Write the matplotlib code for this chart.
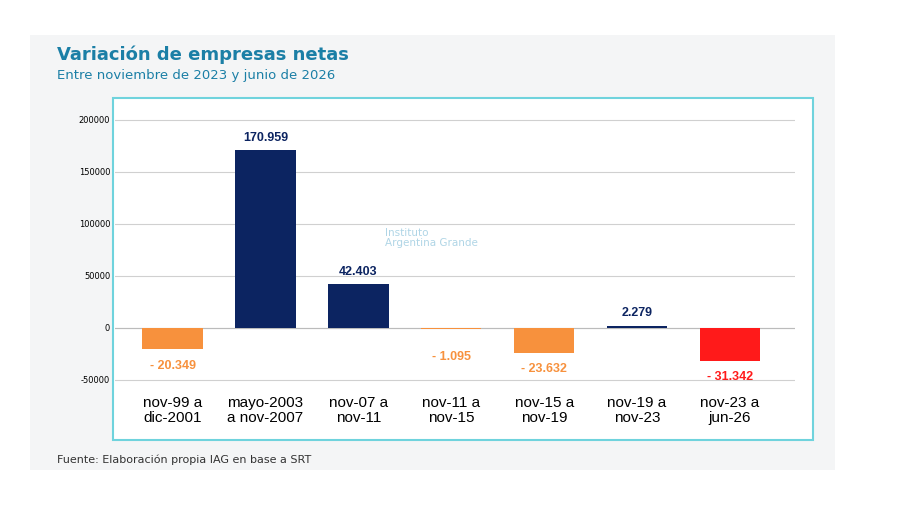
import matplotlib.pyplot as plt
from matplotlib.patches import Rectangle

periodos = ["nov-99 a\ndic-2001", "mayo-2003\na nov-2007", "nov-07 a\nnov-11", "nov-11 a\nnov-15",
            "nov-15 a\nnov-19", "nov-19 a\nnov-23", "nov-23 a\njun-26"]
valores = [-20349, 170959, 42403, -1095, -23632, 2279, -31342]
etiquetas = ["- 20.349", "170.959", "42.403", "- 1.095", "- 23.632", "2.279", "- 31.342"]
colores = ["#f7913d", "#0c2461", "#0c2461", "#f7913d", "#f7913d", "#0c2461", "#ff1a1a"]

fig = plt.figure(figsize=(9, 5.05), dpi=100)
fig.patch.set_facecolor("white")
# tarjeta gris y recuadro celeste
fig.patches.append(Rectangle((30/900, 1-470/505), 805/900, 435/505, transform=fig.transFigure,
                             facecolor="#f4f5f6", edgecolor="none", zorder=-3))
fig.patches.append(Rectangle((113/900, 1-440/505), 700/900, 342/505, transform=fig.transFigure,
                             facecolor="white", edgecolor="#6fd3dd", lw=1.5, zorder=-2))

fig.text(57/900, 1-55/505, "Variación de empresas netas", fontsize=13, fontweight="bold",
         color="#1b7fa6", va="center")
fig.text(57/900, 1-76/505, "Entre noviembre de 2023 y junio de 2026", fontsize=9.5,
         color="#1b7fa6", va="center")
fig.text(57/900, 1-460/505, "Fuente: Elaboración propia IAG en base a SRT", fontsize=8,
         color="#333333", va="center")

ax = fig.add_axes([115/900, 1-390.4/505, 680/900, 280.8/505])
ax.set_facecolor("none")
x = range(len(valores))
ax.bar(x, valores, width=0.65, color=colores, zorder=3)
ax.set_ylim(-60000, 210000)
ax.set_xlim(-0.62, 6.7)
ax.set_yticks([-50000, 0, 50000, 100000, 150000, 200000])
ax.set_yticklabels(["-50000", "0", "50000", "100000", "150000", "200000"], fontsize=6)
ax.grid(axis="y", color="#d0d0d0", lw=0.8, zorder=0)
ax.axhline(0, color="#bbbbbb", lw=0.8, zorder=2)
ax.tick_params(length=0)
ax.set_xticks(list(x))
ax.set_xticklabels(periodos, fontsize=11, linespacing=1.05, family="Liberation Sans")
ax.tick_params(axis="x", pad=4)
for s in ax.spines.values():
    s.set_visible(False)

for i, (v, t, c) in enumerate(zip(valores, etiquetas, colores)):
    if v > 0:
        ax.text(i, v + 6000, t, ha="center", va="bottom", fontsize=9, fontweight="bold",
                color="#0c2461", family="Liberation Sans")
    else:
        ax.text(i, min(v, -12000) - 10000, t, ha="center", va="top", fontsize=9, fontweight="bold",
                color=c, family="Liberation Sans")

fig.text(385/900, 1-238/505, "Instituto\nArgentina Grande", fontsize=7.5, color="#9ccbe0",
         alpha=0.8, va="center", linespacing=1.1)

fig.savefig("out.png", dpi=100)
